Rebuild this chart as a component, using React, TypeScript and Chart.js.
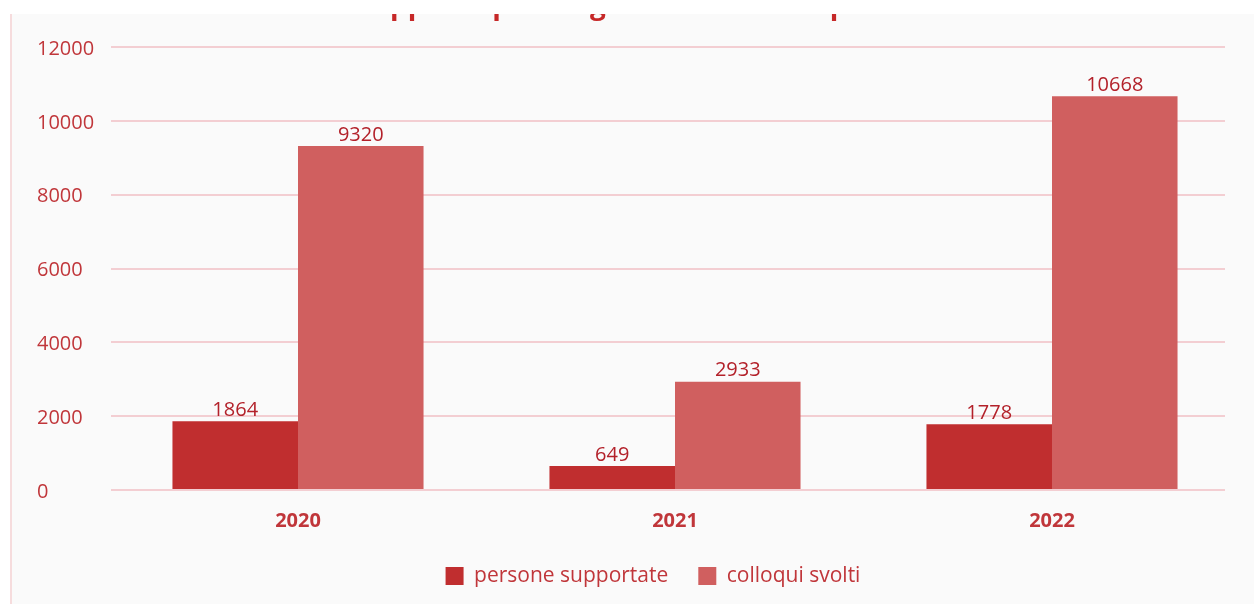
import React, { useEffect, useRef } from "react";
import { Chart, registerables } from "chart.js";

Chart.register(...registerables);

const titleText = "Supporto psicologico: i dati dello sportello";
const categories = ["2020", "2021", "2022"];
const seriesNames = ["persone supportate", "colloqui svolti"];
const personeSupportate = [1864, 649, 1778];
const colloquiSvolti = [9320, 2933, 10668];
const yTicks = [0, 2000, 4000, 6000, 8000, 10000, 12000];

const FONT = '"Open Sans", "Noto Sans", sans-serif';
const RED_TEXT = "#c0363a";
const LABEL_TEXT = "#b3212a";

export default function App() {
  const ref = useRef<HTMLCanvasElement | null>(null);

  useEffect(() => {
    if (!ref.current) return;
    const valueLabels = {
      id: "valueLabels",
      afterDatasetsDraw(chart: any) {
        const ctx = chart.ctx;
        ctx.save();
        ctx.font = `20px ${FONT}`;
        ctx.fillStyle = LABEL_TEXT;
        ctx.textAlign = "center";
        ctx.textBaseline = "bottom";
        chart.data.datasets.forEach((ds: any, di: number) => {
          const meta = chart.getDatasetMeta(di);
          meta.data.forEach((bar: any, i: number) => {
            ctx.fillText(String(ds.data[i]), bar.x, bar.y - 1);
          });
        });
        ctx.restore();
      },
    };
    const clippedTitle = {
      id: "clippedTitle",
      afterDraw(chart: any) {
        const ctx = chart.ctx;
        ctx.save();
        ctx.font = `bold 28px ${FONT}`;
        ctx.fillStyle = "#c62828";
        ctx.textAlign = "left";
        ctx.textBaseline = "alphabetic";
        const startX = 392 - 12 - ctx.measureText("Su").width - 2;
        ctx.fillText(titleText, startX, 0);
        ctx.restore();
      },
    };
    const layoutTweaks = {
      id: "layoutTweaks",
      afterLayout(chart: any) {
        if (chart.legend) {
          chart.legend.left += 22;
          chart.legend.right += 22;
        }
        const x = chart.scales.x;
        if (x) {
          x.left = chart.chartArea.left - 1.5;
          x.right = chart.chartArea.right + 15.5;
          x.configure();
        }
      },
    };

    const chart = new Chart(ref.current, {
      type: "bar",
      data: {
        labels: categories,
        datasets: [
          {
            label: seriesNames[0],
            data: personeSupportate,
            backgroundColor: "#c02e2f",
            categoryPercentage: 0.666,
            barPercentage: 1,
          },
          {
            label: seriesNames[1],
            data: colloquiSvolti,
            backgroundColor: "#d05f5f",
            categoryPercentage: 0.666,
            barPercentage: 1,
          },
        ],
      },
      options: {
        animation: false,
        responsive: false,
        maintainAspectRatio: false,
        layout: { padding: { left: 25, right: 29, top: 33, bottom: 7.5 } },
        plugins: {
          title: { display: false },
          tooltip: { enabled: false },
          legend: {
            position: "bottom",
            labels: {
              boxWidth: 18,
              boxHeight: 18,
              padding: 30,
              color: RED_TEXT,
              font: { family: FONT, size: 21 },
            },
          },
        },
        scales: {
          x: {
            grid: { display: false, drawTicks: false },
            border: { display: false },
            ticks: {
              color: RED_TEXT,
              padding: 19,
              font: { family: FONT, size: 20, weight: "bold" },
            },
            afterFit(s: any) {
              s.height = 45.5;
            },
          },
          y: {
            min: yTicks[0],
            max: yTicks[yTicks.length - 1],
            afterBuildTicks(s: any) {
              s.ticks = yTicks.map((v) => ({ value: v }));
            },
            grid: { color: "rgba(236,170,176,0.55)", lineWidth: 2, drawTicks: false },
            border: { display: false },
            ticks: {
              color: RED_TEXT,
              crossAlign: "far",
              padding: 12,
              labelOffset: 2,
              font: { family: FONT, size: 20 },
              callback: (v: any) => String(v),
            },
            afterFit(s: any) {
              s.width = 74;
            },
          },
        },
      },
      plugins: [valueLabels, clippedTitle, layoutTweaks],
    } as any);
    return () => chart.destroy();
  }, []);

  return (
    <div
      style={{
        position: "fixed",
        left: 0,
        top: 0,
        width: 1254,
        height: 604,
        background: "#ffffff",
        overflow: "hidden",
      }}
    >
      <div
        style={{
          position: "absolute",
          left: 10,
          top: 14,
          width: 2,
          height: 590,
          background: "#f6dcdd",
        }}
      />
      <canvas
        ref={ref}
        width={1242}
        height={590}
        style={{
          position: "absolute",
          left: 12,
          top: 14,
          width: 1242,
          height: 590,
          background: "#fafafa",
        }}
      />
    </div>
  );
}
